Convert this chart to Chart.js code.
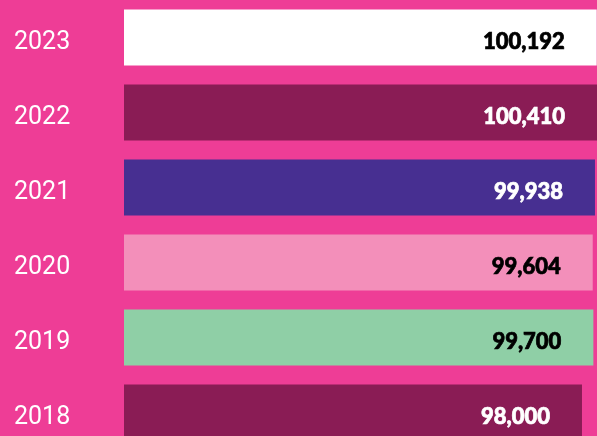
<!DOCTYPE html>
<html>
<head>
<meta charset="utf-8">
<script src="https://cdn.jsdelivr.net/npm/chart.js@4/dist/chart.umd.min.js"></script>
<style>
  html, body { margin: 0; padding: 0; background: #EE3D96; overflow: hidden; }
  #wrap { position: relative; width: 597px; height: 450px; }
</style>
</head>
<body>
<div id="wrap"><canvas id="BarChart"></canvas></div>
<script>
// data
var years = ['2023', '2022', '2021', '2020', '2019', '2018'];
var totals = [100192, 100410, 99938, 99604, 99700, 98000];
var barColors = ['#FFFFFF', '#8A1C55', '#472F91', '#F38FBA', '#8FCFA6', '#8A1C55'];
var labelColors = ['#000000', '#FFFFFF', '#FFFFFF', '#000000', '#000000', '#FFFFFF'];

// year labels on the left and values inside the end of each bar
var barLabels = {
  id: 'barLabels',
  afterDatasetsDraw: function(chart) {
    var ctx = chart.ctx;
    var meta = chart.getDatasetMeta(0);
    var yScale = chart.scales.y;
    ctx.save();
    ctx.textBaseline = 'middle';

    ctx.font = '25px Roboto';
    ctx.textAlign = 'left';
    ctx.fillStyle = '#FFFFFF';
    years.forEach(function(yr, i) {
      ctx.fillText(yr, 14, yScale.getPixelForValue(i) + 5);
    });

    ctx.font = '900 22px Lato';
    ctx.textAlign = 'right';
    ctx.lineWidth = 0.7;
    meta.data.forEach(function(bar, i) {
      var xEnd = Math.min(bar.x, chart.chartArea.right);
      var txt = totals[i].toLocaleString('en-US');
      ctx.fillStyle = labelColors[i];
      ctx.strokeStyle = labelColors[i];
      ctx.fillText(txt, xEnd - 32, bar.y + 4);
      ctx.strokeText(txt, xEnd - 32, bar.y + 4);
    });
    ctx.restore();
  }
};

var ctx = document.getElementById('BarChart').getContext('2d');
var BarChart = new Chart(ctx, {
  type: 'bar',
  data: {
    labels: years,
    datasets: [{
      data: totals,
      backgroundColor: barColors,
      borderWidth: 0,
      barPercentage: 1,
      categoryPercentage: 0.747
    }]
  },
  plugins: [barLabels],
  options: {
    indexAxis: 'y',
    responsive: true,
    maintainAspectRatio: false,
    animation: false,
    layout: { padding: 0 },
    plugins: {
      legend: { display: false },
      tooltip: { enabled: false }
    },
    scales: {
      x: {
        min: 29720,
        max: 100240,
        display: false,
        grid: { display: false }
      },
      y: {
        grid: { display: false },
        border: { display: false },
        ticks: { display: false },
        afterFit: function(scale) {
          scale.width = 124;
          scale.paddingTop = 0;
          scale.paddingBottom = 0;
        }
      }
    }
  }
});
</script>
</body>
</html>
